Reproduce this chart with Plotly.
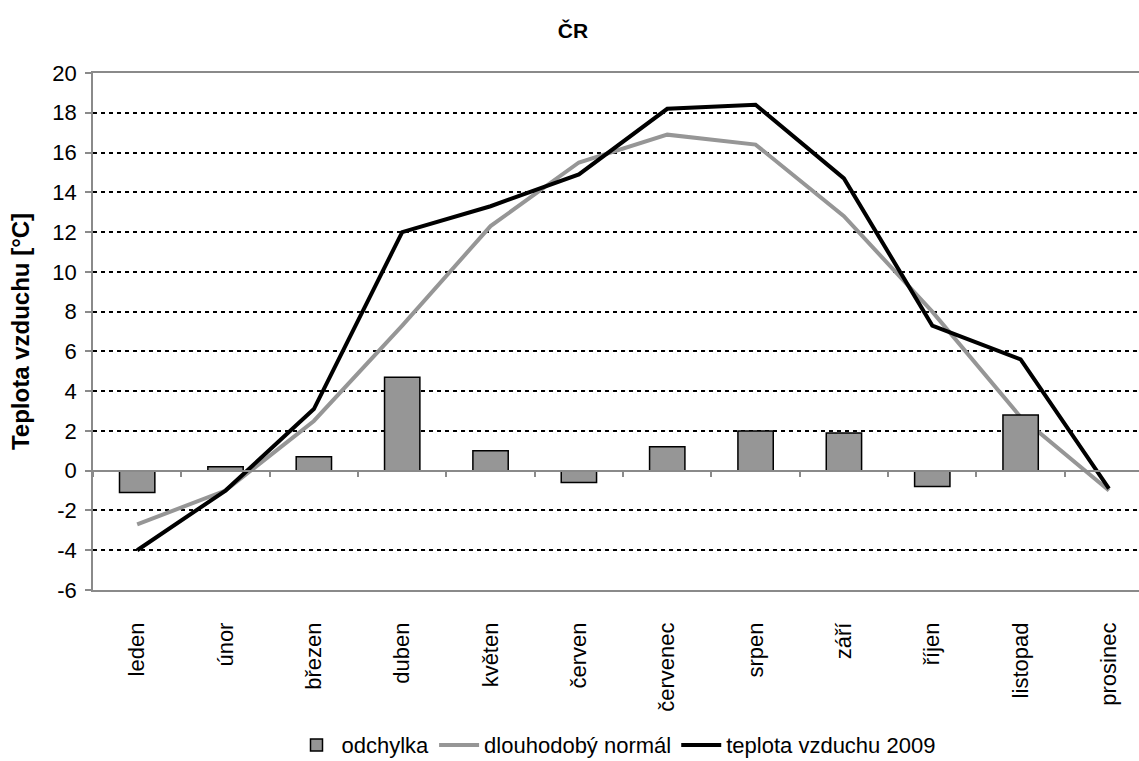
import plotly.graph_objects as go

months = ["leden", "únor", "březen", "duben", "květen", "červen",
          "červenec", "srpen", "září", "říjen", "listopad", "prosinec"]
odchylka = [-1.1, 0.2, 0.7, 4.7, 1.0, -0.6, 1.2, 2.0, 1.9, -0.8, 2.8, 0.0]
normal = [-2.7, -1.0, 2.5, 7.3, 12.3, 15.5, 16.9, 16.4, 12.8, 8.0, 2.7, -1.0]
teplota2009 = [-4.0, -1.0, 3.1, 12.0, 13.3, 14.9, 18.2, 18.4, 14.7, 7.3, 5.6, -0.9]
y_ticks = list(range(-6, 21, 2))
y_ticktext = [str(v) for v in y_ticks]

FONT = "Liberation Sans, Arial, sans-serif"
GRAY = "#969696"
AXIS_GRAY = "#8a8a8a"
x_range = [-0.5, 11.34]

fig = go.Figure()
fig.add_trace(go.Bar(
    x=months, y=odchylka, name="odchylka", xaxis="x2", yaxis="y",
    marker=dict(color=GRAY, line=dict(color="black", width=1.5)),
    width=0.4,
))
fig.add_trace(go.Scatter(
    x=months, y=normal, name="dlouhodobý normál", mode="lines",
    line=dict(color=GRAY, width=4),
))
fig.add_trace(go.Scatter(
    x=months, y=teplota2009, name="teplota vzduchu 2009", mode="lines",
    line=dict(color="black", width=4),
))

fig.update_layout(
    width=1139, height=761,
    margin=dict(l=93, r=0, t=73, b=171, autoexpand=False),
    paper_bgcolor="white", plot_bgcolor="white",
    font=dict(family=FONT, color="black", size=22),
    title=dict(text="<b>ČR</b>", x=573/1139, xanchor="center", y=1 - 31/761, yanchor="middle",
               font=dict(size=21, family=FONT)),
    showlegend=True,
    legend=dict(orientation="h", x=0.5, xanchor="center", y=-0.300, yanchor="middle",
                font=dict(size=22, family=FONT), itemwidth=40, traceorder="normal",
                bgcolor="rgba(0,0,0,0)"),
    xaxis=dict(
        type="category", categoryorder="array", categoryarray=months, range=x_range,
        tickangle=-90, tickfont=dict(size=22), ticks="", showgrid=False,
        showline=True, linecolor=AXIS_GRAY, linewidth=1.5, mirror=True,
        ticklabelstandoff=22, zeroline=False, automargin=False,
    ),
    xaxis2=dict(
        type="category", categoryorder="array", categoryarray=months, range=x_range,
        overlaying="x", anchor="free", position=6 / 26,
        showline=True, linecolor=AXIS_GRAY, linewidth=1.5,
        ticks="outside", tickson="boundaries", ticklen=6, tickcolor=AXIS_GRAY, tickwidth=1.5,
        showticklabels=False, showgrid=False, zeroline=False,
    ),
    yaxis=dict(
        range=[-6, 20], tickvals=y_ticks, ticktext=y_ticktext, tickfont=dict(size=22),
        showgrid=True, gridcolor="black", gridwidth=2, griddash="4px,4px",
        showline=True, linecolor=AXIS_GRAY, linewidth=1.5,
        ticks="outside", ticklen=6, tickcolor=AXIS_GRAY, tickwidth=1.5,
        ticklabelstandoff=4, zeroline=False, automargin=False,
        title=dict(text="<b>Teplota vzduchu [°C]</b>", font=dict(size=24), standoff=16),
    ),
    bargap=0.6,
)

fig.write_html("out.html")
